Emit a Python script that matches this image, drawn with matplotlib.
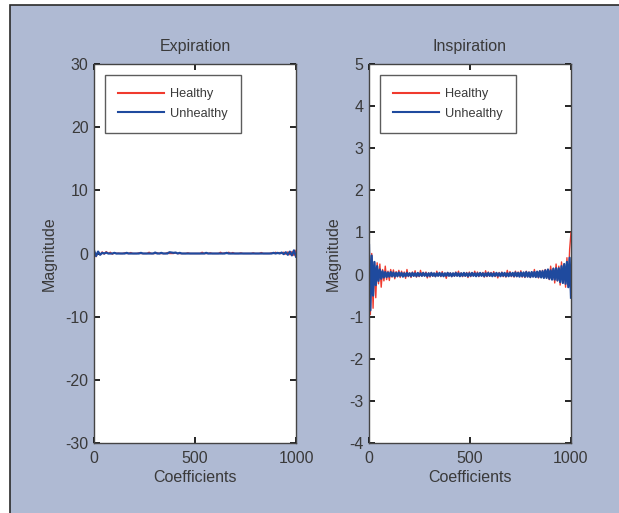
import numpy as np
import matplotlib
matplotlib.use("Agg")
import matplotlib.pyplot as plt
from matplotlib.patches import Rectangle

# ---------------- data ----------------
titles = ["Expiration", "Inspiration"]
series_names = ["Healthy", "Unhealthy"]
x_max = 1000
exp_ylim = (-30, 30)
exp_yticks = [-30, -20, -10, 0, 10, 20, 30]
insp_ylim = (-4, 5)
insp_yticks = [-4, -3, -2, -1, 0, 1, 2, 3, 4, 5]
xticks = [0, 500, 1000]

# Expiration (~100 samples across 0..1000)
exp_healthy = [
    0.4, -0.5, 0.3, -0.2, 0.25, -0.1, 0.3, 0.0, 0.2, -0.1,
    0.1, 0.0, 0.05, 0.0, 0.0, 0.1, 0.0, 0.0, 0.15, 0.0,
    0.0, 0.0, 0.1, 0.0, 0.0, 0.0, 0.0, 0.2, 0.0, 0.0,
    0.0, 0.1, 0.0, 0.0, 0.0, 0.0, 0.15, 0.0, 0.0, 0.0,
    0.1, 0.0, 0.0, 0.0, 0.0, 0.0, 0.1, 0.0, 0.0, 0.0,
    0.0, 0.0, 0.0, 0.2, 0.0, 0.0, 0.0, 0.1, 0.0, 0.0,
    0.0, 0.0, 0.2, 0.0, 0.1, 0.0, 0.2, 0.0, 0.15, 0.0,
    0.0, 0.0, 0.1, 0.0, 0.0, 0.0, 0.0, 0.0, 0.1, 0.0,
    0.0, 0.0, 0.15, 0.0, 0.0, 0.0, 0.0, 0.1, 0.0, 0.2,
    0.0, 0.15, 0.0, 0.2, -0.1, 0.25, -0.2, 0.3, -0.3, 0.5,
]
exp_unhealthy = [
    0.5, -0.4, 0.3, -0.2, 0.1, 0.0, 0.15, 0.0, 0.0, 0.0,
    0.1, 0.0, 0.0, 0.0, 0.0, 0.0, 0.1, 0.0, 0.0, 0.0,
    0.0, 0.0, 0.0, 0.1, 0.0, 0.0, 0.0, 0.0, 0.0, 0.0,
    0.15, 0.0, 0.0, 0.1, 0.0, 0.0, 0.0, 0.2, 0.15, 0.1,
    0.15, 0.0, 0.1, 0.0, 0.0, 0.0, 0.0, 0.0, 0.0, 0.0,
    0.0, 0.0, 0.0, 0.0, 0.0, 0.1, 0.0, 0.0, 0.0, 0.0,
    0.0, 0.0, 0.0, 0.0, 0.0, 0.1, 0.0, 0.0, 0.0, 0.0,
    0.0, 0.0, 0.0, 0.0, 0.0, 0.0, 0.0, 0.0, 0.0, 0.0,
    0.0, 0.0, 0.0, 0.0, 0.0, 0.0, 0.0, 0.0, 0.1, 0.0,
    0.1, 0.0, 0.15, -0.1, 0.2, -0.2, 0.3, -0.3, 0.5, -0.5,
]

# Inspiration (150 samples across 0..1000)
insp_healthy = [
    0.9, -0.95, 0.5, -0.8, 0.3, -0.55, 0.28, -0.22, 0.25, -0.3,
    0.12, -0.15, 0.2, -0.12, 0.08, -0.14, 0.12, -0.06, 0.11, -0.1,
    0.07, -0.05, 0.1, -0.07, 0.08, -0.04, 0.06, -0.09, 0.12, -0.05,
    0.04, -0.07, 0.06, -0.04, 0.09, -0.06, 0.03, -0.05, 0.1, -0.04,
    0.05, -0.03, 0.06, -0.08, 0.04, -0.06, 0.05, -0.04, 0.03, -0.05,
    0.08, -0.03, 0.04, -0.05, 0.07, -0.04, 0.03, -0.09, 0.05, -0.03,
    0.04, -0.05, 0.03, -0.04, 0.06, -0.03, 0.08, -0.04, 0.04, -0.05,
    0.03, -0.04, 0.05, -0.07, 0.06, -0.05, 0.04, -0.03, 0.08, -0.04,
    0.06, -0.05, 0.04, -0.03, 0.05, -0.06, 0.09, -0.05, 0.06, -0.04,
    0.05, -0.03, 0.07, -0.05, 0.04, -0.08, 0.05, -0.04, 0.06, -0.05,
    0.04, -0.06, 0.1, -0.04, 0.07, -0.05, 0.04, -0.06, 0.08, -0.05,
    0.06, -0.04, 0.09, -0.06, 0.05, -0.07, 0.08, -0.05, 0.06, -0.07,
    0.06, -0.05, 0.12, -0.06, 0.05, -0.08, 0.09, -0.06, 0.1, -0.07,
    0.12, -0.08, 0.1, -0.12, 0.2, -0.1, 0.15, -0.2, 0.25, -0.15,
    0.2, -0.25, 0.3, -0.2, 0.25, -0.3, 0.4, -0.25, 0.6, 1.0,
]
insp_unhealthy = [
    0.7, -0.85, 0.45, -0.5, 0.3, -0.25, 0.2, -0.15, 0.12, -0.1,
    0.08, -0.07, 0.06, -0.06, 0.05, -0.05, 0.06, -0.04, 0.05, -0.05,
    0.04, -0.04, 0.05, -0.03, 0.04, -0.05, 0.03, -0.04, 0.04, -0.03,
    0.03, -0.04, 0.04, -0.03, 0.03, -0.04, 0.04, -0.03, 0.03, -0.03,
    0.04, -0.03, 0.03, -0.04, 0.03, -0.03, 0.04, -0.03, 0.03, -0.04,
    0.03, -0.03, 0.04, -0.03, 0.03, -0.04, 0.03, -0.03, 0.04, -0.03,
    0.03, -0.04, 0.03, -0.03, 0.04, -0.03, 0.03, -0.04, 0.03, -0.03,
    0.04, -0.03, 0.03, -0.04, 0.03, -0.03, 0.04, -0.03, 0.03, -0.04,
    0.03, -0.03, 0.04, -0.03, 0.03, -0.04, 0.03, -0.03, 0.04, -0.03,
    0.03, -0.04, 0.03, -0.03, 0.04, -0.03, 0.03, -0.04, 0.04, -0.03,
    0.04, -0.04, 0.03, -0.04, 0.04, -0.03, 0.04, -0.04, 0.05, -0.04,
    0.04, -0.05, 0.05, -0.04, 0.05, -0.05, 0.06, -0.05, 0.05, -0.06,
    0.06, -0.05, 0.06, -0.06, 0.07, -0.06, 0.08, -0.07, 0.08, -0.08,
    0.1, -0.08, 0.12, -0.1, 0.1, -0.12, 0.14, -0.12, 0.15, -0.14,
    0.15, -0.18, 0.2, -0.2, 0.25, -0.22, 0.3, -0.3, 0.4, -0.55,
]

# ---------------- style ----------------
plt.rcParams['font.family'] = ['Liberation Sans', 'DejaVu Sans']
plt.rcParams['axes.unicode_minus'] = False
bg = '#AFBAD3'
red = '#F03A2E'
blue = '#1F4A9E'
txt = '#3a3a3a'
fs = 11.5

W, H = 619, 513
fig = plt.figure(figsize=(W / 100, H / 100), dpi=100, facecolor='white')
frame = Rectangle((10 / W, -0.01), 1.0, 1 - 5 / H + 0.01,
                  transform=fig.transFigure, facecolor=bg,
                  edgecolor='#2a2a2a', linewidth=1.2, zorder=-10)
fig.patches.append(frame)

def make_axes(left_px, ylim, yticks, title, healthy, unhealthy):
    ax = fig.add_axes([left_px / W, 1 - 443 / H, 202 / W, 379 / H])
    ax.set_zorder(1)
    ax.set_facecolor('white')
    xh = np.linspace(0, x_max, len(healthy))
    xu = np.linspace(0, x_max, len(unhealthy))
    ax.plot(xh, healthy, color=red, lw=1.0, label=series_names[0])
    ax.plot(xu, unhealthy, color=blue, lw=1.6, label=series_names[1])
    ax.set_xlim(0, x_max)
    ax.set_ylim(*ylim)
    ax.set_xticks(xticks)
    ax.set_yticks(yticks)
    ax.tick_params(direction='in', length=4, width=1.2, color='black',
                   top=True, right=True, labelsize=fs, labelcolor=txt)
    ax.tick_params(axis='x', pad=6)
    ax.tick_params(axis='y', pad=4)
    for s in ax.spines.values():
        s.set_color('#444444')
        s.set_linewidth(1.0)
    ax.set_title(title, fontsize=fs, color=txt, pad=9)
    ax.set_xlabel('Coefficients', fontsize=fs, color=txt, labelpad=3)
    ax.set_ylabel('Magnitude', fontsize=fs, color=txt, labelpad=6)
    leg = ax.legend(loc='upper left', bbox_to_anchor=(0.055, 0.97),
                    fancybox=False, frameon=True, fontsize=9.2,
                    handlelength=3.6, borderpad=1.0, labelspacing=0.6,
                    handletextpad=0.5, borderaxespad=0.0)
    leg.get_frame().set_edgecolor('#333333')
    leg.get_frame().set_linewidth(1.0)
    for t in leg.get_texts():
        t.set_color(txt)
    for l in leg.get_lines():
        l.set_linewidth(1.5)
    return ax

make_axes(94, exp_ylim, exp_yticks, titles[0], exp_healthy, exp_unhealthy)
make_axes(369, insp_ylim, insp_yticks, titles[1], insp_healthy, insp_unhealthy)

fig.savefig('out.png', dpi=100, facecolor=fig.get_facecolor())
